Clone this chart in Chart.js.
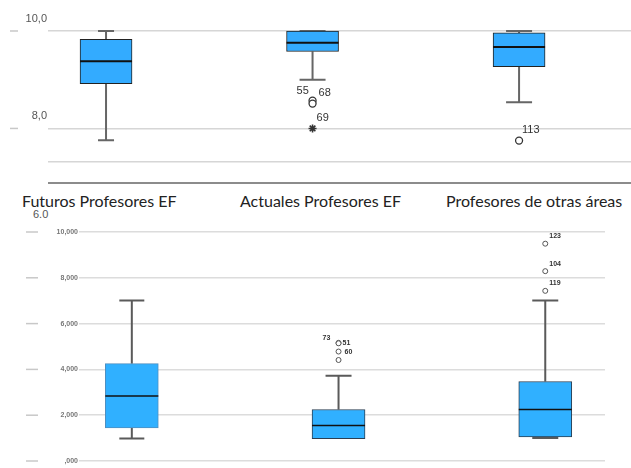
<!DOCTYPE html>
<html>
<head>
<meta charset="utf-8">
<script src="https://cdn.jsdelivr.net/npm/chart.js@4.4.1/dist/chart.umd.min.js"></script>
<style>
  body { margin: 0; background: #fff; }
  #wrap { position: relative; width: 631px; height: 468px; overflow: hidden; }
  canvas { position: absolute; left: 0; }
  .cat { position: absolute; top: 191px; font-family: Lato, "Open Sans", sans-serif; font-size: 16px; color: #222; white-space: nowrap; }
  #stray { position: absolute; left: 33px; top: 208px; font-family: "Liberation Sans", sans-serif; font-size: 11px; color: #555; }
</style>
</head>
<body>
<div id="wrap">
  <canvas id="graf-top" width="631" height="186" style="top:0"></canvas>
  <canvas id="graf-bot" width="631" height="246" style="top:222px"></canvas>
  <div class="cat" style="left:22px">Futuros Profesores EF</div>
  <div class="cat" style="left:240px">Actuales Profesores EF</div>
  <div class="cat" style="left:446px">Profesores de otras áreas</div>
  <div id="stray">6.0</div>
</div>
<script>
// grupos
const categorias = ['Futuros Profesores EF', 'Actuales Profesores EF', 'Profesores de otras áreas'];

// grafico superior (nota)
const topMin = [7.76, 9.00, 8.54];
const topQ1 = [8.92, 9.58, 9.27];
const topMed = [9.38, 9.76, 9.67];
const topQ3 = [9.83, 10.0, 9.96];
const topMax = [10.0, 10.0, 10.0];
const topOutGrupo = [2, 2, 2, 3];
const topOutValor = [8.57, 8.51, 8.00, 7.75];
const topOutId = ['55', '68', '69', '113'];
const topOutExtremo = [false, false, true, false];
const topTicks = [6.88, 7.31, 8, 10];

// grafico inferior
const botMin = [0.98, 0.98, 1.00];
const botQ1 = [1.44, 0.98, 1.05];
const botMed = [2.84, 1.55, 2.25];
const botQ3 = [4.25, 2.25, 3.47];
const botMax = [7.01, 3.72, 7.01];
const botOutGrupo = [2, 2, 2, 2, 3, 3, 3];
const botOutValor = [5.16, 5.14, 4.78, 4.41, 9.49, 8.29, 7.43];
const botOutId = ['73', '51', '60', '', '123', '104', '119'];
const botTicks = [0, 2, 4, 6, 8, 10];

// desplazamientos de las etiquetas (px)
const topOutDx = [-16, 6, 4, 3];
const topOutDy = [-10, -11, -10, -11];
const botOutDx = [-16, 4, 6, 0, 4, 4, 4];
const botOutDy = [-5, 0, 1, 0, -8, -7, -8];

function coma(v, d) {
    return v.toFixed(d).replace('.', ',');
}

const cajas = {
    id: 'cajas',
    beforeDatasetsDraw(chart, args, o) {
        const c = chart.ctx, x = chart.scales.x, y = chart.scales.y;
        c.save();
        // marcas a la izquierda de las etiquetas
        c.strokeStyle = '#c8c8c8';
        c.lineWidth = 1.5;
        o.stubTicks.forEach(v => {
            const py = y.getPixelForValue(v);
            c.beginPath(); c.moveTo(o.stub[0], py); c.lineTo(o.stub[1], py); c.stroke();
        });
        // bigotes
        c.strokeStyle = o.color;
        c.lineWidth = 2;
        o.min.forEach((m, i) => {
            const px = x.getPixelForValue(i + 1), h = o.cap[i] / 2;
            const pMin = y.getPixelForValue(m), pMax = y.getPixelForValue(o.max[i]);
            c.beginPath();
            c.moveTo(px, pMin); c.lineTo(px, y.getPixelForValue(o.q1[i]));
            c.moveTo(px, y.getPixelForValue(o.q3[i])); c.lineTo(px, pMax);
            if (o.min[i] < o.q1[i]) { c.moveTo(px - h, pMin); c.lineTo(px + h, pMin); }
            c.moveTo(px - h, pMax); c.lineTo(px + h, pMax);
            c.stroke();
        });
        c.restore();
    },
    afterDatasetsDraw(chart, args, o) {
        const c = chart.ctx, x = chart.scales.x, y = chart.scales.y;
        c.save();
        c.strokeStyle = '#111';
        c.lineWidth = o.medWidth;
        o.med.forEach((m, i) => {
            const px = x.getPixelForValue(i + 1), h = o.boxW / 2, py = y.getPixelForValue(m);
            c.beginPath(); c.moveTo(px - h, py); c.lineTo(px + h, py); c.stroke();
        });
        // numeros de caso
        c.fillStyle = '#333';
        c.font = o.labelFont;
        c.textBaseline = 'middle';
        o.outId.forEach((t, i) => {
            const px = x.getPixelForValue(o.outGrupo[i]), py = y.getPixelForValue(o.outValor[i]);
            c.fillText(t, px + o.dx[i], py + o.dy[i]);
        });
        c.restore();
    }
};

function puntos(grupos, valores) {
    return grupos.map((g, i) => ({ x: g, y: valores[i] }));
}

new Chart(document.getElementById('graf-top').getContext('2d'), {
    type: 'bar',
    data: {
        datasets: [{
            data: categorias.map((c, i) => ({ x: i + 1, y: [topQ1[i], topQ3[i]] })),
            backgroundColor: '#33abff',
            borderColor: '#222',
            borderWidth: 1,
            borderSkipped: false,
            barThickness: 52
        }, {
            type: 'scatter',
            data: puntos(topOutGrupo, topOutValor),
            pointStyle: topOutExtremo.map(e => e ? 'star' : 'circle'),
            pointRadius: topOutExtremo.map(e => e ? 4 : 3.5),
            backgroundColor: '#fff',
            borderColor: '#333',
            borderWidth: topOutExtremo.map(e => e ? 1.6 : 1.3)
        }]
    },
    options: {
        responsive: false,
        animation: false,
        layout: { autoPadding: false, padding: { top: 0, bottom: 3, left: 0, right: 0 } },
        plugins: {
            legend: { display: false },
            tooltip: { enabled: false },
            cajas: {
                min: topMin, q1: topQ1, med: topMed, q3: topQ3, max: topMax,
                cap: [16, 26, 26], boxW: 52, color: '#666', medWidth: 2,
                outGrupo: topOutGrupo, outValor: topOutValor, outId: topOutId,
                dx: topOutDx, dy: topOutDy, labelFont: '11px "Liberation Sans", sans-serif',
                stubTicks: [8, 10], stub: [10, 18]
            }
        },
        scales: {
            x: { type: 'linear', display: false, offset: false, min: 0.719, max: 3.542 },
            y: {
                min: 6.88, max: 10.61,
                afterBuildTicks: s => { s.ticks = topTicks.map(v => ({ value: v })); },
                afterFit: s => { s.width = 48; },
                border: { display: false },
                grid: {
                    drawTicks: false,
                    color: ctx => ctx.tick && ctx.tick.value === 6.88 ? '#8c8c8c' : '#d6d6d6',
                    lineWidth: ctx => ctx.tick && ctx.tick.value === 6.88 ? 2 : 1.5
                },
                ticks: {
                    padding: 1,
                    labelOffset: -12,
                    color: '#555',
                    font: { family: 'Liberation Sans', size: 11, lineHeight: 0.05 },
                    callback: v => (v === 8 || v === 10) ? coma(v, 1) : ''
                }
            }
        }
    },
    plugins: [cajas]
});

new Chart(document.getElementById('graf-bot').getContext('2d'), {
    type: 'bar',
    data: {
        datasets: [{
            data: categorias.map((c, i) => ({ x: i + 1, y: [botQ1[i], botQ3[i]] })),
            backgroundColor: '#30b0ff',
            borderColor: ['#4f8fc0', '#2b3f52', '#2b3f52'],
            borderWidth: 1,
            borderSkipped: false,
            barThickness: 53
        }, {
            type: 'scatter',
            data: puntos(botOutGrupo, botOutValor),
            pointStyle: 'circle',
            pointRadius: 2.5,
            backgroundColor: '#fff',
            borderColor: '#555',
            borderWidth: 1
        }]
    },
    options: {
        responsive: false,
        animation: false,
        layout: { autoPadding: false, padding: { top: 10, bottom: 7, left: 0, right: 26 } },
        plugins: {
            legend: { display: false },
            tooltip: { enabled: false },
            cajas: {
                min: botMin, q1: botQ1, med: botMed, q3: botQ3, max: botMax,
                cap: [25, 26, 26], boxW: 53, color: '#5a5a5a', medWidth: 1.5,
                outGrupo: botOutGrupo, outValor: botOutValor, outId: botOutId,
                dx: botOutDx, dy: botOutDy, labelFont: 'bold 7px "Liberation Sans", sans-serif',
                stubTicks: botTicks, stub: [26, 38]
            }
        },
        scales: {
            x: { type: 'linear', display: false, offset: false, min: 0.7445, max: 3.289 },
            y: {
                min: 0, max: 10,
                afterBuildTicks: s => { s.ticks = botTicks.map(v => ({ value: v })); },
                afterFit: s => { s.width = 79; },
                border: { display: false },
                grid: { drawTicks: false, color: '#dcdcdc', lineWidth: 1.5 },
                ticks: {
                    padding: 1,
                    color: '#777',
                    font: { family: 'Liberation Sans', size: 7, weight: 'bold' },
                    callback: v => v === 0 ? ',000' : coma(v, 3)
                }
            }
        }
    },
    plugins: [cajas]
});
</script>
</body>
</html>
